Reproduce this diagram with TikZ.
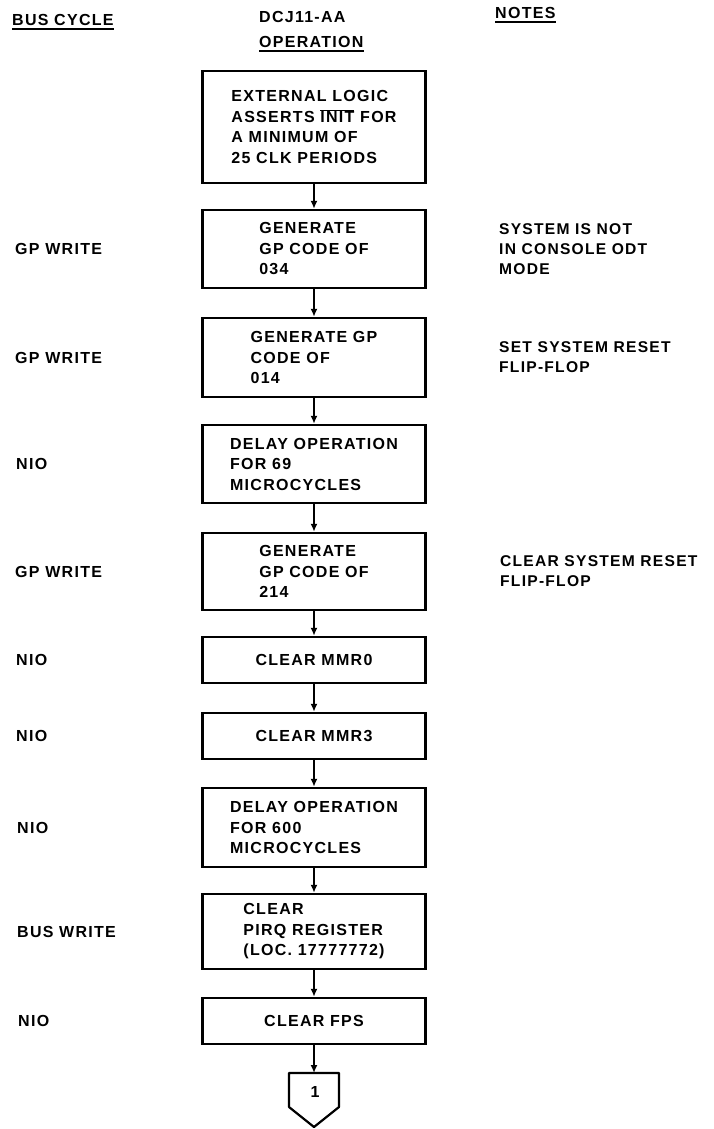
\documentclass[tikz,border=0pt]{standalone}
\usepackage{fontspec}
\setmainfont{Liberation Sans}[LetterSpace=8]
\usetikzlibrary{arrows.meta}
\newcommand\dcfont{\fontsize{16pt}{20.5pt}\selectfont\bfseries}
\newcommand\notefont{\fontsize{15.6pt}{20pt}\selectfont\bfseries}
\begin{document}
\begin{tikzpicture}[x=1pt,y=-1pt,
  box/.style={draw,line width=2.4pt,minimum width=223pt,align=left,inner sep=0pt,font=\dcfont},
  lbl/.style={anchor=west,inner sep=0pt,font=\dcfont},
  note/.style={anchor=west,inner sep=0pt,align=left,font=\notefont},
  hdr/.style={anchor=west,inner sep=0pt,font=\dcfont},
  ul/.style={line width=2pt},
  conn/.style={line width=1.8pt,-{Latex[length=8pt,width=7pt]}},
  offpage/.style={line width=2.2pt,line join=round}]
\useasboundingbox[fill=white] (0,0) rectangle (713,1129);

% headers
\node[hdr] (hbus) at (12,20) {BUS CYCLE};
\draw[ul] ([yshift=-3pt]hbus.base west) -- ([yshift=-3pt]hbus.base east);
\node[hdr] (hop1) at (259,17) {DCJ11-AA};
\node[hdr] (hop2) at (259,42) {OPERATION};
\draw[ul] ([yshift=-3pt]hop2.base west) -- ([yshift=-3pt]hop2.base east);
\node[hdr] (hnotes) at (495,13) {NOTES};
\draw[ul] ([yshift=-3pt]hnotes.base west) -- ([yshift=-3pt]hnotes.base east);

% boxes
\node[box,minimum height=112pt] (b1) at (314,127)
  {EXTERNAL LOGIC\\ASSERTS $\overline{\mbox{INIT}}$ FOR\\A MINIMUM OF\\25 CLK PERIODS};
\node[box,minimum height=78pt] (b2) at (314,249) {GENERATE\\GP CODE OF\\034};
\node[box,minimum height=79pt] (b3) at (314,357.5) {GENERATE GP\\CODE OF\\014};
\node[box,minimum height=78pt] (b4) at (314,464) {DELAY OPERATION\\FOR 69\\MICROCYCLES};
\node[box,minimum height=77pt] (b5) at (314,571.5) {GENERATE\\GP CODE OF\\214};
\node[box,minimum height=46pt] (b6) at (314,660) {CLEAR MMR0};
\node[box,minimum height=46pt] (b7) at (314,736) {CLEAR MMR3};
\node[box,minimum height=79pt] (b8) at (314,827.5) {DELAY OPERATION\\FOR 600\\MICROCYCLES};
\node[box,minimum height=75pt] (b9) at (314,931.5) {CLEAR\\PIRQ REGISTER\\(LOC. 17777772)};
\node[box,minimum height=46pt] (b10) at (314,1021) {CLEAR FPS};

% off-page connector
\coordinate (ct) at (314,1073);
\draw[offpage] (289,1073) -- (339,1073) -- (339,1107) -- (314,1127) -- (289,1107) -- cycle;
\node[inner sep=0pt,font=\dcfont] (c1) at (315,1092) {1};

% connectors
\draw[conn] (b1) -- (b2);
\draw[conn] (b2) -- (b3);
\draw[conn] (b3) -- (b4);
\draw[conn] (b4) -- (b5);
\draw[conn] (b5) -- (b6);
\draw[conn] (b6) -- (b7);
\draw[conn] (b7) -- (b8);
\draw[conn] (b8) -- (b9);
\draw[conn] (b9) -- (b10);
\draw[conn] (b10.south) -- (ct);

% bus cycle labels
\node[lbl] (l2) at (15,249) {GP WRITE};
\node[lbl] (l3) at (15,357.5) {GP WRITE};
\node[lbl] (l4) at (16,464) {NIO};
\node[lbl] (l5) at (15,571.5) {GP WRITE};
\node[lbl] (l6) at (16,660) {NIO};
\node[lbl] (l7) at (16,736) {NIO};
\node[lbl] (l8) at (17,827.5) {NIO};
\node[lbl] (l9) at (17,931.5) {BUS WRITE};
\node[lbl] (l10) at (18,1021) {NIO};

% notes
\node[note] (n2) at (499,249) {SYSTEM IS NOT\\IN CONSOLE ODT\\MODE};
\node[note] (n3) at (499,357.5) {SET SYSTEM RESET\\FLIP-FLOP};
\node[note] (n5) at (500,571.5) {CLEAR SYSTEM RESET\\FLIP-FLOP};
\end{tikzpicture}
\end{document}
